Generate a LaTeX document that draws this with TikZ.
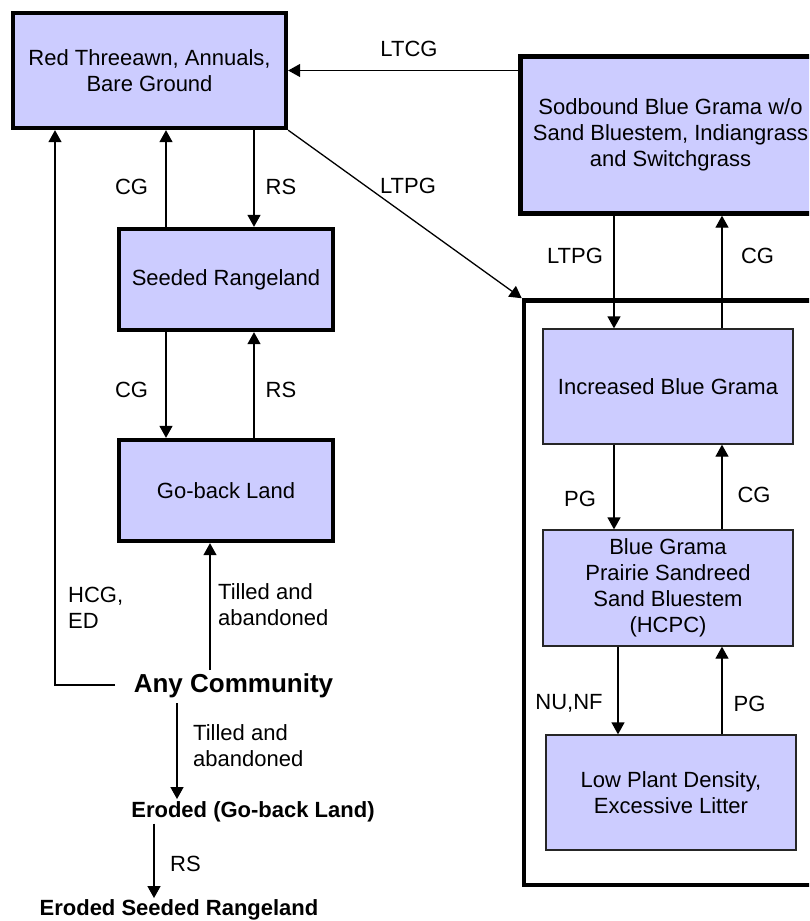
\documentclass[tikz,border=0pt]{standalone}
\usepackage{fontspec}
\setmainfont{Liberation Sans}
\usetikzlibrary{arrows.meta}
\definecolor{boxfill}{RGB}{204,204,255}
\begin{document}
\begin{tikzpicture}[x=1pt,y=-1pt,
  font=\fontsize{22}{26}\selectfont,
  thickbox/.style={draw=black, fill=boxfill, line width=4.3pt, inner sep=0pt, align=center},
  thinbox/.style={draw=black!85, fill=boxfill, line width=1.3pt, inner sep=0pt, align=center},
  arr/.style={-{Triangle[length=12pt,width=13pt]}, line width=1.3pt},
  lbl/.style={inner sep=0pt},
  boldlbl/.style={inner sep=0pt, font=\fontsize{22}{26}\selectfont\bfseries}]
\useasboundingbox (0,0) rectangle (809,921);
\clip (0,0) rectangle (809,921);

% group frame
\node[draw=black, line width=4.5pt, minimum width=310pt, minimum height=584.5pt, inner sep=0pt] (grp) at (679,592.75) {};

% left boxes
\node[thickbox, minimum width=273pt, minimum height=115pt] (red) at (149.5,70.5) {Red Threeawn, Annuals,\\Bare Ground};
\node[thickbox, minimum width=214pt, minimum height=101pt] (seed) at (226,279.5) {Seeded Rangeland};
\node[thickbox, minimum width=214pt, minimum height=101pt] (goback) at (226,490.5) {Go-back Land};

% right boxes
\node[thickbox, minimum width=300pt, minimum height=157pt] (sod) at (670.5,135) {Sodbound Blue Grama w/o\\Sand Bluestem, Indiangrass\\and Switchgrass};
\node[thinbox, minimum width=250pt, minimum height=115pt] (inc) at (668,386.5) {Increased Blue Grama};
\node[thinbox, minimum width=250pt, minimum height=116pt] (hcpc) at (668,588) {Blue Grama\\Prairie Sandreed\\Sand Bluestem\\(HCPC)};
\node[thinbox, minimum width=250pt, minimum height=115pt] (low) at (671,792.5) {Low Plant Density,\\Excessive Litter};

% text-only states
\node[inner sep=0pt, anchor=base, font=\fontsize{26}{30}\selectfont\bfseries] (any) at (233.5,692) {Any Community};
\node[boldlbl, anchor=base, outer sep=2pt] (er1) at (253,817) {Eroded (Go-back Land)};
\node[boldlbl, anchor=base, outer sep=1pt] (er2) at (179,915) {Eroded Seeded Rangeland};

% helper x positions
\coordinate (cA) at (166,0);
\coordinate (cB) at (254,0);
\coordinate (cR1) at (614,0);
\coordinate (cR2) at (722,0);
\coordinate (cR3) at (618,0);
\coordinate (cE) at (154,0);
\coordinate (tillS) at (210,670);
\coordinate (hcgS) at (115,685);
\coordinate (hcgC) at (55,685);
\coordinate (anyD) at (177,703);

% connectors
\draw[arr] (sod.west |- red.east) -- (red.east);
\draw[arr] (red.south east) -- (grp.north west);
\draw[arr] (cA |- seed.north) -- (cA |- red.south);
\draw[arr] (cB |- red.south) -- (cB |- seed.north);
\draw[arr] (cA |- seed.south) -- (cA |- goback.north);
\draw[arr] (cB |- goback.north) -- (cB |- seed.south);
\draw[arr] (tillS) -- (tillS |- goback.south);
\draw[arr] (hcgS) -- (hcgC) -- (hcgC |- red.south);
\draw[arr] (anyD) -- (anyD |- er1.north);
\draw[arr] (cE |- er1.south) -- (cE |- er2.north);

\draw[arr] (cR1 |- sod.south) -- (cR1 |- inc.north);
\draw[arr] (cR2 |- inc.north) -- (cR2 |- sod.south);
\draw[arr] (cR1 |- inc.south) -- (cR1 |- hcpc.north);
\draw[arr] (cR2 |- hcpc.north) -- (cR2 |- inc.south);
\draw[arr] (cR3 |- hcpc.south) -- (cR3 |- low.north);
\draw[arr] (cR2 |- low.north) -- (cR2 |- hcpc.south);

% labels
\node[lbl] (lLTCG) at (409,48.5) {LTCG};
\node[lbl] (lLTPG1) at (408,186) {LTPG};
\node[lbl] (lCG1) at (131.5,187) {CG};
\node[lbl] (lRS1) at (281,187) {RS};
\node[lbl] (lCG2) at (131.5,390) {CG};
\node[lbl] (lRS2) at (281,390) {RS};
\node[lbl, anchor=west, align=left] (lTill1) at (218,605) {Tilled and\\abandoned};
\node[lbl, anchor=west, align=left] (lHCG) at (68,608) {HCG,\\ED};
\node[lbl, anchor=west, align=left] (lTill2) at (193,746) {Tilled and\\abandoned};
\node[lbl] (lRS3) at (185.5,864) {RS};

\node[lbl] (lLTPG2) at (575,256) {LTPG};
\node[lbl] (lCG3) at (757.5,256) {CG};
\node[lbl] (lPG1) at (580,498.5) {PG};
\node[lbl] (lCG4) at (754,495) {CG};
\node[lbl] (lNU) at (569,703) {NU,NF};
\node[lbl] (lPG2) at (749.5,703.5) {PG};
\end{tikzpicture}
\end{document}
